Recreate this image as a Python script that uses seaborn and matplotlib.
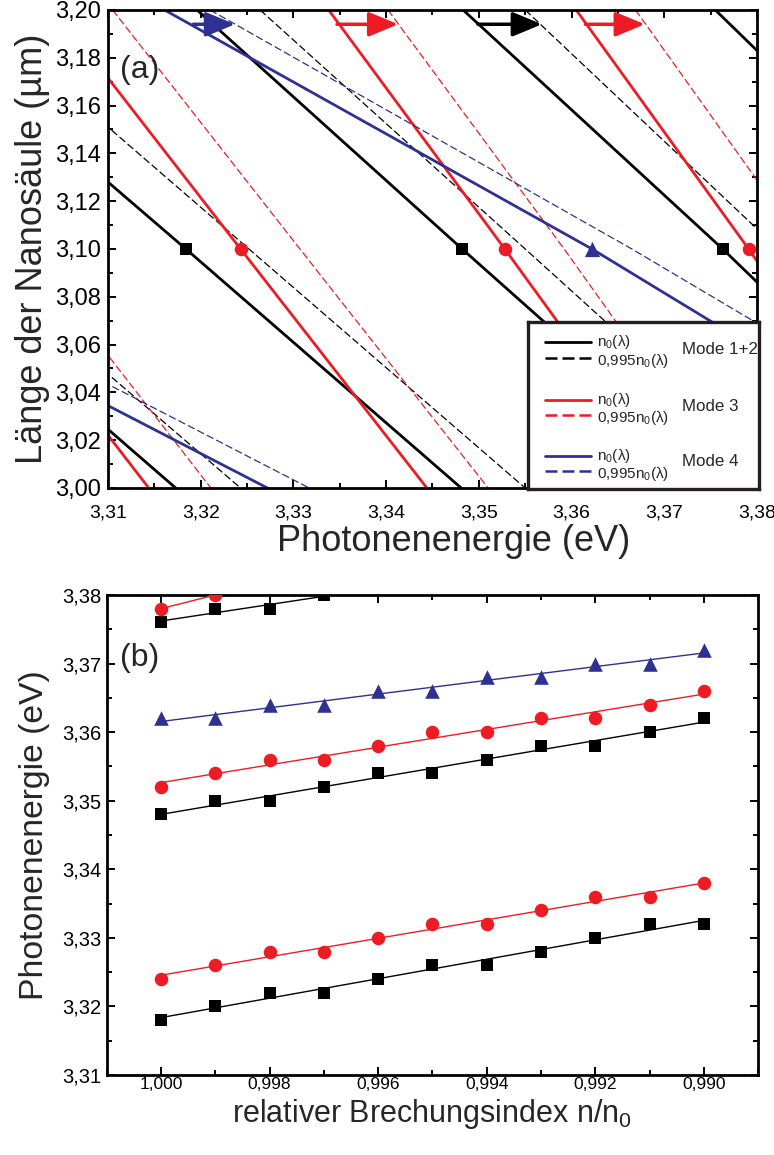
import numpy as np
import seaborn as sns
import matplotlib
matplotlib.use("Agg")
import matplotlib.pyplot as plt
from matplotlib.ticker import MultipleLocator, FuncFormatter

# colours
BLACK = "#000000"
RED = "#ed1c24"
BLUE = "#2e3192"

# ---------- panel (a): resonance lines, energy (eV) at L = 3.20 / 3.10 / 3.00 um ----------
L_pts = [3.20, 3.10, 3.00]

mode12_solid = [[3.2579, 3.2876, 3.3173],
                [3.2884, 3.3184, 3.3481],
                [3.3196, 3.3482, 3.3772],
                [3.3483, 3.3763, 3.4030],
                [3.3755, 3.4020, 3.4280]]
mode12_dashed = [[3.2643, 3.2943, 3.3243],
                 [3.2954, 3.3252, 3.3550],
                 [3.3264, 3.3550, 3.3835],
                 [3.3550, 3.3823, 3.4100]]
mode3_solid = [[3.2745, 3.2945, 3.3144],
               [3.3043, 3.3243, 3.3444],
               [3.3338, 3.3528, 3.3715],
               [3.3605, 3.3791, 3.3970]]
mode3_dashed = [[3.2811, 3.3011, 3.3211],
                [3.3105, 3.3307, 3.3510],
                [3.3402, 3.3592, 3.3776],
                [3.3669, 3.3853, 3.4040]]
mode4_solid = [[3.2274, 3.2773, 3.3272],
               [3.3161, 3.3622, 3.4046]]
mode4_dashed = [[3.2317, 3.2817, 3.3317],
                [3.3210, 3.3665, 3.4100]]

# markers at L = 3.10 um
marker_L = 3.10
sq_E = [3.3184, 3.3482, 3.3763]
ci_E = [3.3243, 3.3528, 3.3791]
tri_E = [3.3622]

# shift arrows (n0 -> 0.995 n0)
arrow_L = 3.194
arrow_from = [3.3192, 3.3347, 3.3499, 3.3615]
arrow_to = [3.3237, 3.3413, 3.3568, 3.3679]
arrow_col = [BLUE, RED, BLACK, RED]

# ---------- panel (b): energies vs relative index ----------
n_rel = [1.000, 0.999, 0.998, 0.997, 0.996, 0.995, 0.994, 0.993, 0.992, 0.991, 0.990]
sq_low = [3.318, 3.320, 3.322, 3.322, 3.324, 3.326, 3.326, 3.328, 3.330, 3.332, 3.332]
ci_low = [3.324, 3.326, 3.328, 3.328, 3.330, 3.332, 3.332, 3.334, 3.336, 3.336, 3.338]
sq_mid = [3.348, 3.350, 3.350, 3.352, 3.354, 3.354, 3.356, 3.358, 3.358, 3.360, 3.362]
ci_mid = [3.352, 3.354, 3.356, 3.356, 3.358, 3.360, 3.360, 3.362, 3.362, 3.364, 3.366]
tri_mid = [3.362, 3.362, 3.364, 3.364, 3.366, 3.366, 3.368, 3.368, 3.370, 3.370, 3.372]
sq_top = [3.376, 3.378, 3.378, 3.380]
ci_top = [3.378, 3.380]

sns.set_style("ticks")
plt.rcParams["font.family"] = ["Liberation Sans", "DejaVu Sans"]
plt.rcParams["mathtext.fontset"] = "custom"
plt.rcParams["mathtext.rm"] = "Liberation Sans"
plt.rcParams["mathtext.it"] = "Liberation Sans:italic"

DASH_THIN = (0, (6, 2.5))

fig = plt.figure(figsize=(7.74, 11.55), dpi=100)
ax1 = fig.add_axes([0.1395, 0.5775, 0.8385, 0.4139])
ax2 = fig.add_axes([0.1378, 0.0693, 0.8419, 0.4156])

comma2 = FuncFormatter(lambda v, p: f"{v:.2f}".replace(".", ","))
comma3 = FuncFormatter(lambda v, p: f"{v:.3f}".replace(".", ","))

# --- panel (a) lines
groups = [(mode12_solid, BLACK, "-", 2.0), (mode12_dashed, BLACK, DASH_THIN, 0.9),
          (mode3_solid, RED, "-", 2.0), (mode3_dashed, RED, DASH_THIN, 0.9),
          (mode4_solid, BLUE, "-", 2.0), (mode4_dashed, BLUE, DASH_THIN, 0.9)]
for lines, col, ls, lw in groups:
    for E in lines:
        sns.lineplot(x=E, y=L_pts, sort=False, estimator=None, color=col,
                     linestyle=ls, lw=lw, ax=ax1, zorder=2)

sns.scatterplot(x=sq_E, y=[marker_L] * len(sq_E), marker="s", s=70, color=BLACK,
                linewidth=0, ax=ax1, zorder=5)
sns.scatterplot(x=ci_E, y=[marker_L] * len(ci_E), marker="o", s=95, color=RED,
                linewidth=0, ax=ax1, zorder=5)
sns.scatterplot(x=tri_E, y=[marker_L] * len(tri_E), marker="^", s=120, color=BLUE,
                linewidth=0, ax=ax1, zorder=5)

for e0, e1, c in zip(arrow_from, arrow_to, arrow_col):
    ax1.annotate("", xy=(e1, arrow_L), xytext=(e0, arrow_L),
                 arrowprops=dict(arrowstyle="-|>,head_length=1.8,head_width=0.75",
                                 color=c, lw=2.5, shrinkA=0, shrinkB=0), zorder=6)

ax1.set_xlim(3.31, 3.38)
ax1.set_ylim(3.00, 3.20)
ax1.xaxis.set_major_locator(MultipleLocator(0.01))
ax1.xaxis.set_minor_locator(MultipleLocator(0.005))
ax1.yaxis.set_major_locator(MultipleLocator(0.02))
ax1.yaxis.set_minor_locator(MultipleLocator(0.01))
ax1.xaxis.set_major_formatter(comma2)
ax1.yaxis.set_major_formatter(comma2)
ax1.set_xlabel("Photonenenergie (eV)", fontsize=26)
ax1.set_ylabel("Länge der Nanosäule (µm)", fontsize=26)
ax1.xaxis.set_label_coords(0.532, -0.075)
ax1.yaxis.set_label_coords(-0.090, 0.5)
ax1.text(0.018, 0.874, "(a)", transform=ax1.transAxes, ha="left", va="center",
         fontsize=23)

# --- panel (b)
series_b = [(sq_low, "s", BLACK, 70), (ci_low, "o", RED, 95),
            (sq_mid, "s", BLACK, 70), (ci_mid, "o", RED, 95),
            (tri_mid, "^", BLUE, 110), (sq_top, "s", BLACK, 70), (ci_top, "o", RED, 95)]
for y, m, c, s in series_b:
    sns.regplot(x=np.array(n_rel[:len(y)]), y=np.array(y), ci=None, marker=m, color=c,
                scatter_kws=dict(s=s, linewidths=0, zorder=4, alpha=1),
                line_kws=dict(lw=1.0, zorder=3), ax=ax2)

ax2.set_xlim(1.001, 0.989)
ax2.set_ylim(3.31, 3.38)
ax2.xaxis.set_major_locator(MultipleLocator(0.002))
ax2.xaxis.set_minor_locator(MultipleLocator(0.001))
ax2.yaxis.set_major_locator(MultipleLocator(0.01))
ax2.yaxis.set_minor_locator(MultipleLocator(0.005))
ax2.xaxis.set_major_formatter(comma3)
ax2.yaxis.set_major_formatter(comma2)
ax2.set_xlabel(r"relativer Brechungsindex n/n$_\mathregular{0}$", fontsize=22)
ax2.set_ylabel("Photonenenergie (eV)", fontsize=24.3)
ax2.xaxis.set_label_coords(0.5, -0.045)
ax2.yaxis.set_label_coords(-0.087, 0.5)
ax2.text(0.02, 0.869, "(b)", transform=ax2.transAxes, ha="left", va="center",
         fontsize=23)

for ax in (ax1, ax2):
    for sp in ax.spines.values():
        sp.set_linewidth(2.0)
        sp.set_color("black")
    ax.tick_params(which="both", direction="in", top=True, right=True,
                   width=1.4, colors="black")
    ax.tick_params(which="major", length=5.5)
    ax.tick_params(which="minor", length=3.5)

ax1.tick_params(axis="x", pad=12, labelsize=14)
ax1.tick_params(axis="y", pad=5, labelsize=17)
ax2.tick_params(axis="x", pad=1.5, labelsize=12.5)
ax2.tick_params(axis="y", pad=3.5, labelsize=14.5)

# --- legend box of panel (a)
lax = fig.add_axes([0.6822, 0.5766, 0.2985, 0.1446])
lax.set_xlim(0, 1)
lax.set_ylim(0, 1)
lax.set_xticks([])
lax.set_yticks([])
lax.set_facecolor("white")
for sp in lax.spines.values():
    sp.set_linewidth(2.4)
    sp.set_color("#231f20")

leg_rows = [(BLACK, 0.882, 0.786, "Mode 1+2", 0.837),
            (RED, 0.533, 0.443, "Mode 3", 0.493),
            (BLUE, 0.199, 0.108, "Mode 4", 0.162)]
for c, y_s, y_d, lab, y_m in leg_rows:
    lax.plot([0.074, 0.273], [y_s, y_s], color=c, lw=2.0)
    lax.plot([0.074, 0.273], [y_d, y_d], color=c, lw=1.8, linestyle=(0, (4.8, 2.0)))
    lax.text(0.299, y_s, r"n$_\mathregular{0}$(λ)", fontsize=11, va="center", ha="left")
    lax.text(0.299, y_d - 0.02, r"0,995n$_\mathregular{0}$(λ)", fontsize=11, va="center", ha="left")
    lax.text(0.665, y_m, lab, fontsize=12.2, va="center", ha="left")

fig.savefig("out.png", dpi=100)
